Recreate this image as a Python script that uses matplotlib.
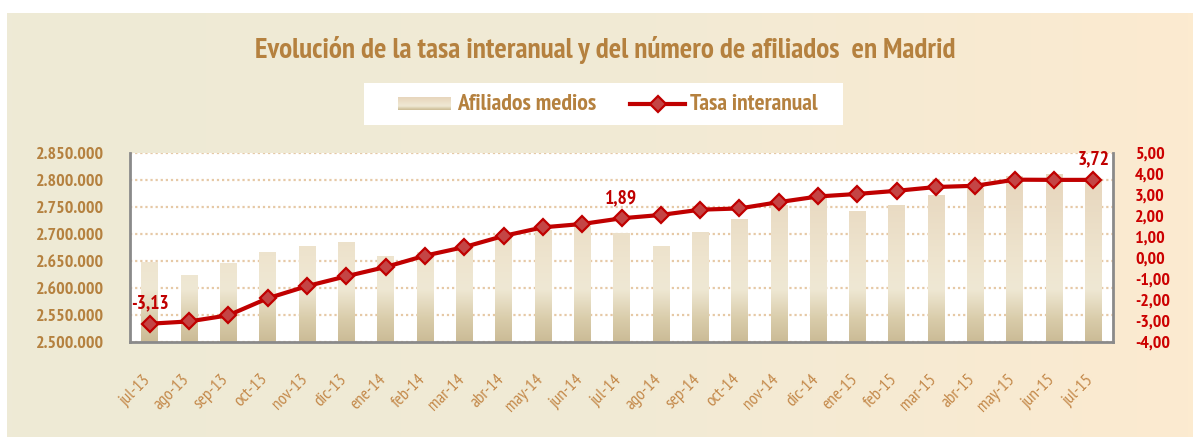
import numpy as np
import matplotlib
matplotlib.use('Agg')
import matplotlib.pyplot as plt
from matplotlib.patches import Rectangle
from matplotlib.lines import Line2D
from matplotlib.colors import LinearSegmentedColormap
from matplotlib.ticker import FuncFormatter
import matplotlib.transforms as mtransforms

# ---------------- data ----------------
months = ["jul-13", "ago-13", "sep-13", "oct-13", "nov-13", "dic-13", "ene-14", "feb-14",
          "mar-14", "abr-14", "may-14", "jun-14", "jul-14", "ago-14", "sep-14", "oct-14",
          "nov-14", "dic-14", "ene-15", "feb-15", "mar-15", "abr-15", "may-15", "jun-15", "jul-15"]
afiliados = [2649000, 2624000, 2646000, 2667000, 2678000, 2685000, 2659000, 2667000,
             2674000, 2693000, 2707000, 2714000, 2701000, 2678000, 2704000, 2728000,
             2754000, 2766000, 2743000, 2754000, 2772000, 2785000, 2808000, 2811000, 2800000]
tasa = [-3.13, -3.02, -2.73, -1.92, -1.34, -0.87, -0.43, 0.11,
        0.52, 1.05, 1.46, 1.62, 1.89, 2.05, 2.30, 2.36,
        2.66, 2.93, 3.05, 3.20, 3.38, 3.44, 3.73, 3.72, 3.72]
labelled = [0, 12, 24]
left_ticks = list(range(2500000, 2850001, 50000))
right_ticks = list(range(-4, 6))
title = "Evolución de la tasa interanual y del número de afiliados  en Madrid"
legend_labels = ["Afiliados medios", "Tasa interanual"]

# ---------------- style ----------------
FONT = ['PT Sans Narrow', 'Liberation Sans Narrow', 'DejaVu Sans']
plt.rcParams['font.family'] = FONT
BROWN = '#B5813F'
XBROWN = '#C4894A'
RED = '#C00000'
W, H = 1193, 437

fig = plt.figure(figsize=(W / 100, H / 100), dpi=100, facecolor='white')

# background panel with horizontal gradient
bg = fig.add_axes([7 / W, 0, 1 - 7 / W, 1 - 13 / H], zorder=-10)
bgcmap = LinearSegmentedColormap.from_list('bg', ['#EEEAD6', '#F1EAD5', '#FCEBD0'])
bg.imshow(np.linspace(0, 1, 256)[None, :], aspect='auto', cmap=bgcmap, extent=[0, 1, 0, 1])
bg.axis('off')

# main axes
ax = fig.add_axes([130 / W, (H - 342) / H, (1113 - 130) / W, (342 - 153) / H], zorder=1)
ax.set_facecolor('white')
YMIN, YMAX = 2500000, 2850000
x = np.arange(len(months))

barcmap = LinearSegmentedColormap.from_list(
    'bar', [(0.0, '#CBBB96'), (0.12, '#D9CCAA'), (0.28, '#EFE8D4'), (0.45, '#EEE4CE'),
            (0.75, '#E9DAC2'), (1.0, '#E6D4BA')])
grad = np.linspace(0, 1, 256)[:, None]
bars = ax.bar(x, afiliados, width=0.42, color='none', edgecolor='none', zorder=2)
for b in bars:
    im = ax.imshow(grad, extent=(b.get_x(), b.get_x() + b.get_width(), YMIN, YMAX),
                   aspect='auto', cmap=barcmap, origin='lower', zorder=2, interpolation='bilinear')
    im.set_clip_path(b)

ax.set_xlim(-0.5, len(months) - 0.5)
ax.set_ylim(YMIN, YMAX)
ax.set_yticks(left_ticks)
ax.yaxis.set_major_formatter(FuncFormatter(lambda v, p: f"{int(round(v)):,}".replace(',', '.')))
ax.yaxis.grid(True, color='#E6C9A6', linestyle=(0, (1, 1.3)), linewidth=1.6)
ax.set_axisbelow(True)
ax.tick_params(axis='y', length=0, pad=19, labelcolor=BROWN, labelsize=13)
for t in ax.get_yticklabels():
    t.set_fontweight('bold')

ax.set_xticks(x)
ax.set_xticklabels(months, rotation=45, ha='right', va='center', rotation_mode='anchor',
                   color=XBROWN, fontsize=12.5)
ax.tick_params(axis='x', length=0, pad=25)
offset = mtransforms.ScaledTranslation(-2 / 100, 0, fig.dpi_scale_trans)
for t in ax.get_xticklabels():
    t.set_transform(t.get_transform() + offset)

for s in ['top', 'right']:
    ax.spines[s].set_visible(False)
for s in ['left', 'bottom']:
    ax.spines[s].set_color('#8A8A8A')
    ax.spines[s].set_linewidth(2)

# secondary axis with the rate line
ax2 = ax.twinx()
ax2.set_ylim(-4, 5)
ax2.set_yticks(right_ticks)
ax2.yaxis.set_major_formatter(FuncFormatter(lambda v, p: f"{v:.2f}".replace('.', ',')))
ax2.tick_params(axis='y', length=0, pad=16, labelcolor='#CC0000', labelsize=13)
for t in ax2.get_yticklabels():
    t.set_fontweight('bold')
for s in ['top', 'left', 'bottom']:
    ax2.spines[s].set_visible(False)
ax2.spines['right'].set_color('#8A8A8A')
ax2.spines['right'].set_linewidth(2)

ax2.plot(x, tasa, color=RED, lw=3, marker='D', ms=8, mfc='#C44545', mec=RED, mew=1.6,
         zorder=3, solid_joinstyle='round')
for i in labelled:
    ax2.annotate(f"{tasa[i]:.2f}".replace('.', ','), (x[i], tasa[i]), xytext=(0, 8),
                 textcoords='offset points', ha='center', va='bottom', color=RED,
                 fontsize=14, fontweight='bold')

# title
fig.text(605 / W, 1 - 50 / H, title, ha='center', va='center', fontsize=21,
         fontweight='bold', color=BROWN)

# legend (manual)
fig.patches.append(Rectangle((364 / W, 1 - 125 / H), (843 - 364) / W, (125 - 83) / H,
                             transform=fig.transFigure, facecolor='white', edgecolor='none',
                             zorder=0))
lax = fig.add_axes([398 / W, 1 - 110 / H, (451 - 398) / W, 13 / H], zorder=2)
lax.imshow(grad, aspect='auto', cmap=barcmap, origin='lower', extent=[0, 1, 0, 1])
lax.axis('off')
fig.text(457 / W, 1 - 104 / H, legend_labels[0], ha='left', va='center', fontsize=17,
         fontweight='bold', color=BROWN)
fig.lines.append(Line2D([630 / W, 685 / W], [1 - 104 / H, 1 - 104 / H], transform=fig.transFigure,
                        color=RED, lw=3))
fig.lines.append(Line2D([657.5 / W], [1 - 104 / H], transform=fig.transFigure, color=RED,
                        marker='D', ms=8, mfc='#C44545', mec=RED, mew=1.6, lw=0))
fig.text(690 / W, 1 - 104 / H, legend_labels[1], ha='left', va='center', fontsize=17,
         fontweight='bold', color=BROWN)

fig.savefig('out.png', dpi=100, facecolor='white')
